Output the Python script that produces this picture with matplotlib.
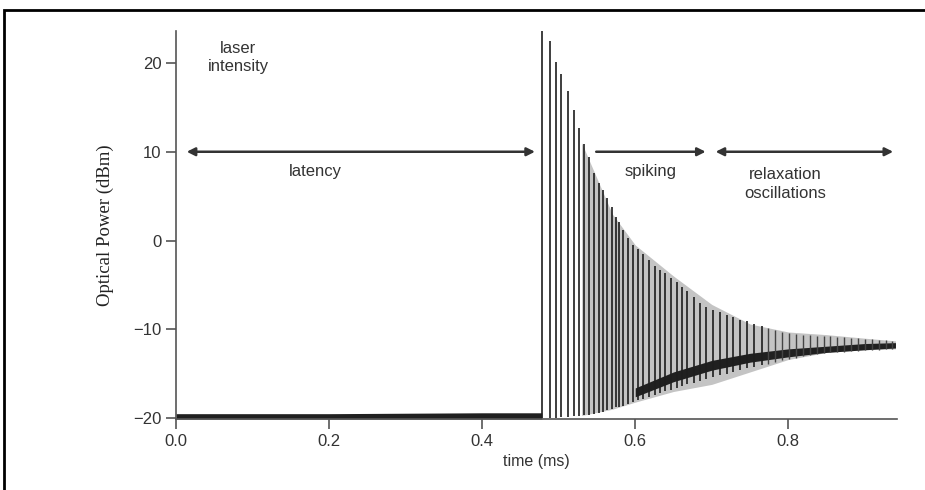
import matplotlib.pyplot as plt
import matplotlib as mpl
from matplotlib.patches import Rectangle
mpl.use('Agg')
plt.rcParams['font.family'] = 'sans-serif'
plt.rcParams['font.sans-serif'] = ['Liberation Sans']

# spike train (time in ms, peak in dBm, trough in dBm)
spike_t = [0.478, 0.488, 0.497, 0.503, 0.512, 0.520, 0.527, 0.533, 0.540, 0.546,
           0.553, 0.558, 0.563, 0.569, 0.575, 0.579, 0.584, 0.591, 0.597, 0.604,
           0.610, 0.618, 0.626, 0.633, 0.639, 0.647, 0.655, 0.661, 0.668, 0.677,
           0.685, 0.693, 0.702, 0.711, 0.720, 0.728, 0.737, 0.746, 0.755, 0.765]
spike_peak = [23.6, 22.5, 20.1, 18.8, 16.8, 14.7, 12.7, 10.9, 9.4, 7.6,
              6.5, 5.7, 4.8, 3.8, 2.7, 2.1, 1.2, 0.3, -0.5, -1.0,
              -1.5, -2.2, -2.9, -3.3, -3.6, -4.2, -4.7, -5.2, -5.7, -6.4,
              -7.0, -7.5, -7.8, -8.1, -8.4, -8.6, -8.9, -9.1, -9.4, -9.6]
spike_low = [-20.0, -20.0, -20.0, -19.9, -19.9, -19.8, -19.8, -19.7, -19.6, -19.5,
             -19.4, -19.3, -19.1, -19.0, -18.8, -18.7, -18.6, -18.4, -18.2, -18.0,
             -17.8, -17.6, -17.4, -17.2, -17.0, -16.8, -16.6, -16.4, -16.2, -16.0,
             -15.8, -15.6, -15.4, -15.2, -15.0, -14.8, -14.6, -14.4, -14.2, -14.0]

# weaker oscillations in the relaxation part
relax_t = [0.774, 0.783, 0.792, 0.801, 0.810, 0.819, 0.828, 0.837, 0.846, 0.855,
           0.864, 0.873, 0.882, 0.891, 0.900, 0.909, 0.918, 0.927, 0.936]
relax_peak = [-9.9, -10.1, -10.3, -10.4, -10.5, -10.6, -10.6, -10.7, -10.7, -10.8,
              -10.9, -10.9, -11.0, -11.0, -11.1, -11.1, -11.2, -11.2, -11.3]
relax_low = [-13.9, -13.7, -13.5, -13.3, -13.2, -13.0, -12.9, -12.8, -12.7, -12.6,
             -12.5, -12.5, -12.4, -12.4, -12.3, -12.3, -12.3, -12.2, -12.2]

# grey haze around the oscillations
env_t = [0.53, 0.57, 0.60, 0.65, 0.70, 0.75, 0.80, 0.85, 0.90, 0.94]
env_top = [11.0, 3.0, -0.5, -4.0, -7.2, -9.4, -10.3, -10.6, -11.0, -11.3]
env_bot = [-19.7, -19.0, -18.2, -17.0, -16.2, -14.8, -13.4, -12.6, -12.3, -12.2]

# dark mean level under the spikes
mid_t = [0.60, 0.65, 0.70, 0.75, 0.80, 0.85, 0.90, 0.94]
mid_top = [-16.6, -14.8, -13.5, -12.7, -12.2, -11.9, -11.6, -11.5]
mid_bot = [-17.6, -15.9, -14.6, -13.7, -13.1, -12.6, -12.3, -12.1]

# latency baseline
base_t = [0.0, 0.2, 0.4, 0.478]
base_top = [-19.5, -19.5, -19.4, -19.4]
base_bot = [-20.1, -20.1, -20.1, -20.1]

fig = plt.figure(figsize=(9.25, 4.9), dpi=100)
fig.patches.append(Rectangle((4 / 925, -0.1), 1.2, 1 - 10 / 490 + 0.1, transform=fig.transFigure,
                             fill=False, edgecolor='black', linewidth=2))
ax = fig.add_axes([176 / 925, 1 - 419 / 490, 721 / 925, 388 / 490])

ax.fill_between(env_t, env_bot, env_top, color='#c4c4c4', lw=0)
ax.vlines(spike_t, spike_low, spike_peak, color='#1e1e1e', lw=1.2)
ax.vlines(relax_t, relax_low, relax_peak, color='#444444', lw=1.0)
ax.fill_between(mid_t, mid_bot, mid_top, color='#202020', lw=0)
ax.fill_between(base_t, base_bot, base_top, color='#202020', lw=0)

ax.set_xlim(0, 0.942)
ax.set_ylim(-20.1, 23.6)
ax.set_xticks([0.0, 0.2, 0.4, 0.6, 0.8])
ax.set_xticklabels(['0.0', '0.2', '0.4', '0.6', '0.8'])
ax.set_yticks([-20, -10, 0, 10, 20])
ax.set_yticklabels(['\u221220', '\u221210', '0', '10', '20'])
for s in ['top', 'right']:
    ax.spines[s].set_visible(False)
for s in ['left', 'bottom']:
    ax.spines[s].set_color('#555555')
    ax.spines[s].set_linewidth(1.2)
ax.tick_params(colors='#555555', labelcolor='#333333', labelsize=12, length=7, width=1.2)
ax.set_xlabel('time (ms)', fontsize=11.5, color='#333333', labelpad=4)
ax.set_ylabel('Optical Power (dBm)', fontsize=13.5, family='Liberation Serif', color='#222222', labelpad=14)

arrow = dict(color='#333333', lw=1.8, shrinkA=0, shrinkB=0, mutation_scale=12)
ax.annotate('', xy=(0.014, 10), xytext=(0.469, 10), arrowprops=dict(arrowstyle='<|-|>', **arrow))
ax.annotate('', xy=(0.692, 10), xytext=(0.549, 10), arrowprops=dict(arrowstyle='-|>', **arrow))
ax.annotate('', xy=(0.705, 10), xytext=(0.937, 10), arrowprops=dict(arrowstyle='<|-|>', **arrow))

txt = dict(fontsize=12, color='#333333', ha='center', va='center')
ax.text(0.081, 20.6, 'laser\nintensity', linespacing=1.3, **txt)
ax.text(0.182, 7.8, 'latency', **txt)
ax.text(0.62, 7.8, 'spiking', **txt)
ax.text(0.796, 6.4, 'relaxation\noscillations', linespacing=1.3, **txt)

fig.savefig('out.png', dpi=100)
